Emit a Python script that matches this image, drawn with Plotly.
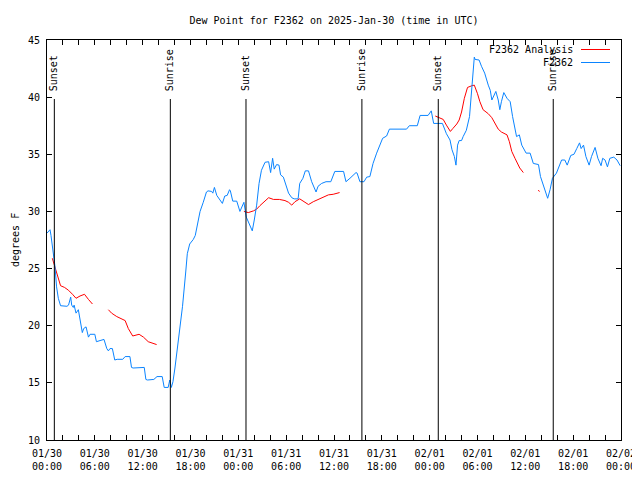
import plotly.graph_objects as go

# hours since 2025-01-30 00:00 UTC
obs_hours = [0.0, 0.38, 0.5, 0.8, 1.0, 1.2, 1.42, 1.7, 2.5, 2.7, 2.97, 3.1, 3.3, 3.4, 3.64, 3.93, 4.14, 4.43, 4.6, 4.9,
             5.2, 5.4, 6.0, 6.2, 6.65, 7.15, 7.5, 7.7, 7.9, 8.2, 8.5, 8.8, 9.5, 9.8, 10.4, 10.6, 10.8, 12.2, 12.4, 12.6,
             13.4, 13.8, 14.45, 14.7, 15.2, 15.4, 15.6, 15.8, 16.05, 16.35, 16.7, 17.0, 17.4, 17.6, 17.9, 18.35, 18.6, 18.8,
             19.0, 19.2, 19.6, 20.0, 20.2, 20.65, 20.8, 21.0, 21.3, 21.7, 22.0, 22.3, 22.6, 22.9, 23.0, 23.3, 23.8, 24.2,
             24.7, 25.0, 25.25, 25.75, 26.0, 26.3, 26.6, 26.9, 27.35, 27.8, 28.05, 28.3, 28.5, 28.8, 29.1, 29.3, 29.65,
             29.95, 30.3, 30.7, 31.0, 31.5, 31.7, 32.1, 32.4, 32.8, 33.2, 33.75, 34.0, 34.45, 35.0, 35.6, 36.1, 37.2,
             37.5, 38.0, 38.76, 38.9, 39.25, 39.76, 40.1, 40.5, 40.9, 41.35, 41.8, 42.1, 42.6, 42.95, 45.1, 45.45, 46.45,
             46.7, 46.8, 47.8, 48.2, 48.5, 49.6, 50.1, 50.55, 50.8, 51.1, 51.3, 51.5, 51.7, 52.0, 52.2, 52.6, 53.0, 53.3,
             53.6, 53.7, 54.2, 54.5, 54.9, 55.35, 55.6, 55.8, 56.1, 56.3, 56.6, 56.8, 57.0, 57.3, 57.7, 58.1, 58.4, 58.7,
             58.9, 59.25, 59.55, 60.1, 60.6, 61.0, 61.65, 61.9, 62.3, 62.7, 62.8, 63.1, 63.4, 63.9, 64.25, 64.55, 64.95,
             65.25, 65.7, 66.1, 66.45, 66.8, 67.0, 67.3, 67.6, 68.0, 68.3, 68.75, 69.1, 69.5, 69.7, 70.0, 70.3, 70.6,
             71.1, 71.5, 71.9]
obs_dewpt = [28.1, 28.4, 27.9, 26.3, 25.2, 23.4, 22.4, 21.75, 21.7, 21.8, 22.5, 21.8, 21.6, 21.8, 21.1, 21.4, 20.5, 19.4,
             19.75, 19.9, 19.0, 19.25, 19.25, 18.6, 18.7, 18.8, 18.0, 17.8, 18.0, 18.0, 17.0, 17.06, 17.06, 17.3, 17.3,
             16.35, 16.3, 16.35, 15.3, 15.25, 15.3, 15.55, 15.55, 14.6, 14.6, 15.25, 14.6, 15.1, 16.3, 18.0, 20.2, 21.7,
             24.7, 26.3, 27.15, 27.55, 27.9, 28.7, 29.25, 30.0, 30.8, 31.7, 31.8, 31.75, 31.6, 32.1, 31.4, 31.0, 30.7,
             31.35, 31.4, 31.9, 31.8, 30.9, 30.9, 30.0, 30.8, 29.5, 29.1, 28.3, 29.25, 30.55, 32.45, 33.6, 34.3, 34.35,
             33.4, 34.65, 33.7, 34.1, 34.05, 33.2, 33.0, 32.3, 31.6, 31.2, 31.1, 31.1, 32.45, 32.9, 33.55, 33.55, 32.6,
             31.7, 32.2, 32.45, 32.6, 32.6, 33.5, 33.5, 32.6, 32.9, 33.4, 33.35, 32.6, 32.6, 33.0, 33.05, 34.2, 35.1,
             35.8, 36.4, 36.6, 37.2, 37.2, 37.5, 37.5, 38.0, 38.4, 38.4, 38.8, 37.7, 37.7, 36.8, 36.25, 35.4, 34.8,
             34.05, 35.8, 36.2, 36.2, 36.55, 37.1, 38.3, 40.9, 43.5, 43.3, 43.25, 42.7, 42.1, 41.05, 40.6, 39.75, 40.3,
             40.5, 39.75, 38.9, 39.6, 40.4, 39.9, 39.6, 38.3, 37.4, 36.55, 36.7, 35.8, 35.1, 35.1, 34.2, 34.1, 33.05,
             32.2, 31.4, 31.15, 31.9, 32.9, 33.35, 33.9, 34.5, 34.5, 34.05, 34.9, 35.0, 35.5, 36.0, 35.5, 35.8, 34.8,
             34.05, 34.8, 35.6, 34.65, 34.0, 34.65, 34.5, 33.9, 34.65, 34.75, 34.5, 34.0]

ana_hours = [0.67, 0.85, 1.2, 1.5, 1.7, 2.2, 2.7, 3.2, 3.64, 4.14, 4.7, 5.2, 5.7, None,
             7.7, 8.1, 8.75, 9.4, 9.8, 10.2, 10.75, 11.55, 12.1, 12.7, 13.25, 13.75, None,
             24.7, 25.25, 25.9, 26.3, 26.7, 27.3, 27.8, 28.4, 29.15, 29.85, 30.3, 30.7, 31.1, 31.7, 32.2, 32.8,
             33.4, 34.0, 34.7, 35.3, 35.9, 36.7, None,
             48.7, 49.3, 49.7, 50.1, 50.6, 50.9, 51.4, 51.7, 52.0, 52.35, 52.75, 53.3, 53.6, 54.0, 54.3, 54.7,
             55.35, 55.8, 56.2, 56.6, 57.0, 57.7, 58.0, 58.3, 58.7, 59.0, 59.3, 59.75, None,
             61.6, 61.8]
ana_dewpt = [25.9, 25.5, 24.6, 23.85, 23.5, 23.35, 23.1, 22.75, 22.4, 22.6, 22.75, 22.3, 21.9, None,
             21.4, 21.1, 20.8, 20.6, 20.45, 19.75, 19.1, 19.25, 19.0, 18.6, 18.45, 18.35, None,
             30.0, 29.9, 30.05, 30.2, 30.5, 30.9, 31.2, 31.05, 31.05, 30.95, 30.8, 30.55, 30.85, 31.1, 30.85, 30.6,
             30.85, 31.05, 31.3, 31.45, 31.5, 31.65, None,
             38.35, 38.15, 38.05, 37.55, 37.0, 37.25, 37.65, 38.0, 38.7, 39.9, 40.85, 41.0, 41.05, 40.3, 39.6, 38.9,
             38.55, 38.2, 37.7, 37.2, 36.95, 36.7, 36.1, 35.25, 34.65, 34.15, 33.8, 33.4, None,
             31.85, 31.75]

sun_hours = [0.92, 15.47, 24.96, 39.5, 49.08, 63.5]
sun_labels = ["Sunset", "Sunrise", "Sunset", "Sunrise", "Sunset", "Sunrise"]

tick_hours = list(range(0, 73, 2))
tick_labels = {0: "01/30<br>00:00", 6: "01/30<br>06:00", 12: "01/30<br>12:00", 18: "01/30<br>18:00",
               24: "01/31<br>00:00", 30: "01/31<br>06:00", 36: "01/31<br>12:00", 42: "01/31<br>18:00",
               48: "02/01<br>00:00", 54: "02/01<br>06:00", 60: "02/01<br>12:00", 66: "02/01<br>18:00",
               72: "02/02<br>00:00"}
y_ticks = [10, 15, 20, 25, 30, 35, 40, 45]

FONT = "DejaVu Sans Mono"
RED = "#ff0000"
BLUE = "#0a84ff"

# the page body adds an 8px offset; lay out in page pixels
OFF = 8
W, H = 640 - OFF, 480 - OFF
PL, PR, PT, PB = 47, 621, 40, 440  # plot area in page pixels

fig = go.Figure()
fig.add_trace(go.Scatter(x=ana_hours, y=ana_dewpt, mode="lines", name="F2362 Analysis",
                         line=dict(color=RED, width=1), connectgaps=False))
fig.add_trace(go.Scatter(x=obs_hours, y=obs_dewpt, mode="lines", name="F2362",
                         line=dict(color=BLUE, width=1)))


def px_x(p):
    return (p - PL) / float(PR - PL)


def px_y(p):
    return (PB - p) / float(PB - PT)


shapes = []
annotations = []
for h, lab in zip(sun_hours, sun_labels):
    shapes.append(dict(type="line", xref="x", yref="paper", x0=h, x1=h, y0=0, y1=px_y(99),
                       line=dict(color="black", width=1)))
    annotations.append(dict(x=h, y=px_y(93), xref="x", yref="paper", text=lab, textangle=-90,
                            showarrow=False, xanchor="center", yanchor="bottom",
                            font=dict(family=FONT, size=10, color="black")))

# legend (gnuplot style: text then sample)
for name, color, py in [("F2362 Analysis", RED, 49.5), ("F2362", BLUE, 62.5)]:
    annotations.append(dict(x=px_x(575), y=px_y(py), xref="paper", yref="paper", text=name,
                            showarrow=False, xanchor="right", yanchor="middle",
                            font=dict(family=FONT, size=10, color="black")))
    shapes.append(dict(type="line", xref="paper", yref="paper", x0=px_x(581), x1=px_x(610),
                       y0=px_y(py), y1=px_y(py), line=dict(color=color, width=1)))

# y axis title
annotations.append(dict(x=px_x(15), y=px_y(240), xref="paper", yref="paper", text="degrees F",
                        textangle=-90, showarrow=False, xanchor="center", yanchor="middle",
                        font=dict(family=FONT, size=10, color="black")))

fig.update_layout(
    width=W, height=H,
    margin=dict(l=PL - OFF, r=W - (PR - OFF), t=PT - OFF, b=H - (PB - OFF), pad=0),
    paper_bgcolor="white", plot_bgcolor="white",
    showlegend=False,
    font=dict(family=FONT, size=10, color="black"),
    title=dict(text="Dew Point for F2362 on 2025-Jan-30 (time in UTC)",
               x=(334 - OFF) / W, xanchor="center",
               y=1 - (20 - OFF) / H, yanchor="middle",
               font=dict(family=FONT, size=10, color="black")),
    shapes=shapes,
    annotations=annotations,
)
fig.update_xaxes(range=[0, 72], tickvals=tick_hours,
                 ticktext=[tick_labels.get(h, "") for h in tick_hours],
                 ticks="inside", ticklen=5, tickcolor="black", tickwidth=1,
                 showline=True, linecolor="black", linewidth=1, mirror="allticks",
                 showgrid=False, zeroline=False, tickfont=dict(family=FONT, size=10),
                 automargin=False, ticklabelstandoff=4)
fig.update_yaxes(range=[10, 45], tickvals=y_ticks,
                 ticks="inside", ticklen=5, tickcolor="black", tickwidth=1,
                 showline=True, linecolor="black", linewidth=1, mirror="allticks",
                 showgrid=False, zeroline=False, tickfont=dict(family=FONT, size=10),
                 automargin=False, ticklabelstandoff=4)

fig.write_html("out.html")
